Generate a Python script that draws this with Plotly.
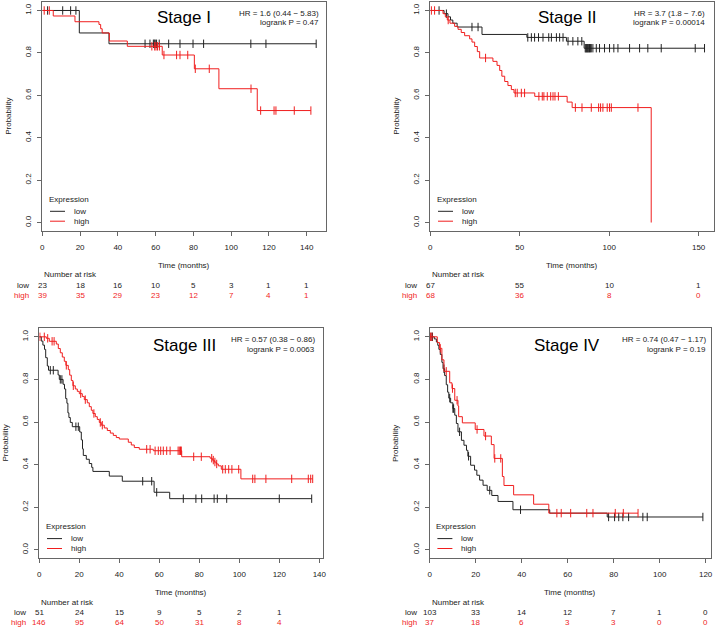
import numpy as np
import plotly.graph_objects as go

W, H = 716, 629

# ---------------- Stage I ----------------
s1_low_t = [0, 19.6, 35.3]
s1_low_s = [1.0, 0.894, 0.843]
s1_low_cens = [2.8, 10.8, 15.0, 17.8, 54.4, 57.0, 58.8, 59.3, 59.8, 60.5, 61.9,
               66.9, 72.9, 79.8, 85.4, 110.4, 118.4, 145.0]
s1_high_t = [0, 5.8, 17.3, 30.0, 30.9, 31.7, 35.5, 45.0, 63.5, 80.5, 93.5, 113.8]
s1_high_s = [1.0, 0.974, 0.947, 0.934, 0.914, 0.894, 0.856, 0.831, 0.790, 0.725, 0.631, 0.528]
s1_high_cens = [1.0, 3.7, 58.0, 59.5, 60.2, 61.0, 62.0, 64.4, 71.1, 72.9, 77.0, 81.0,
                88.4, 110.5, 115.6, 122.7, 123.7, 133.4, 142.2]
s1_risk_t = [0, 20, 40, 60, 80, 100, 120, 140]
s1_risk_low = [23, 18, 16, 10, 5, 3, 1, 1]
s1_risk_high = [39, 35, 29, 23, 12, 7, 4, 1]

# ---------------- Stage II ----------------
s2_low_t = [0, 7.7, 9.9, 11.3, 12.6, 15.0, 28.9, 54.0, 76.1, 86.0]
s2_low_s = [1.0, 0.985, 0.970, 0.955, 0.940, 0.922, 0.887, 0.873, 0.855, 0.822]
s2_low_cens = [4.9, 9.0, 23.3, 26.7, 54.5, 56.5, 58.3, 60.5, 63.0, 66.2, 67.7, 70.5,
               72.3, 74.2, 77.0, 79.7, 82.5, 84.7, 86.6, 87.0, 87.4, 87.8, 88.2, 88.6,
               89.0, 89.5, 90.0, 90.9, 92.8, 94.6, 97.4, 100.2, 102.6, 104.9, 111.4,
               117.0, 121.6, 129.1, 148.1, 153.3]
s2_high_t = [0, 7.1, 8.4, 9.5, 11.0, 13.6, 15.5, 17.3, 19.2, 22.0, 23.3, 24.8, 26.3,
             27.6, 35.0, 37.3, 38.8, 40.0, 41.6, 43.4, 45.3, 46.8, 58.4, 76.5, 79.3, 123.5]
s2_high_s = [1.0, 0.985, 0.970, 0.955, 0.940, 0.925, 0.911, 0.896, 0.881, 0.866, 0.851,
             0.830, 0.806, 0.776, 0.760, 0.741, 0.717, 0.690, 0.665, 0.646, 0.627,
             0.611, 0.595, 0.568, 0.542, 0.0]
s2_high_cens = [0.6, 2.4, 10.0, 30.9, 47.5, 48.6, 50.9, 52.7, 60.7, 62.6, 63.5, 65.4,
                67.3, 68.6, 69.7, 71.6, 81.1, 84.8, 90.0, 94.1, 95.2, 96.5, 98.9,
                100.2, 101.2, 116.1]
s2_risk_t = [0, 50, 100, 150]
s2_risk_low = [67, 55, 10, 1]
s2_risk_high = [68, 36, 8, 0]

# ---------------- Stage III ----------------
s3_low_t = [0, 1.0, 1.8, 2.6, 3.2, 4.0, 4.6, 9.4, 10.0, 11.9, 12.6, 13.2, 13.8, 14.3,
            14.8, 15.5, 16.5, 20.2, 21.0, 21.6, 22.0, 23.5, 25.0, 26.2, 26.8, 35.0,
            41.5, 57.4, 65.2]
s3_low_s = [1.0, 0.980, 0.961, 0.941, 0.902, 0.863, 0.843, 0.821, 0.800, 0.777, 0.755,
            0.710, 0.688, 0.643, 0.621, 0.598, 0.578, 0.553, 0.516, 0.474, 0.443,
            0.425, 0.405, 0.387, 0.368, 0.346, 0.322, 0.270, 0.240]
s3_low_cens = [5.5, 7.0, 10.5, 11.3, 18.3, 19.5, 51.7, 56.2, 58.7, 72.0, 78.3, 81.2,
               87.4, 89.0, 93.7, 120.0, 136.2]
s3_high_t = [0, 3.5, 5.0, 8.5, 9.5, 10.5, 11.5, 12.5, 13.3, 14.5, 15.2, 16.0, 16.8,
             18.0, 19.0, 20.0, 21.5, 22.5, 24.0, 25.0, 26.0, 26.8, 28.0, 29.0, 30.0,
             31.0, 32.5, 34.0, 35.5, 37.0, 38.5, 40.0, 44.5, 46.0, 47.5, 50.0, 57.0,
             71.2, 85.4, 86.5, 87.5, 88.5, 89.5, 91.0, 100.8]
s3_high_s = [1.0, 0.993, 0.979, 0.966, 0.945, 0.925, 0.905, 0.885, 0.866, 0.846, 0.820,
             0.795, 0.770, 0.755, 0.744, 0.733, 0.720, 0.705, 0.690, 0.672, 0.655,
             0.640, 0.625, 0.612, 0.598, 0.585, 0.572, 0.560, 0.548, 0.537, 0.527,
             0.520, 0.505, 0.492, 0.480, 0.472, 0.465, 0.437, 0.430, 0.421, 0.412,
             0.403, 0.394, 0.378, 0.333]
s3_high_cens = [0.3, 2.5, 4.2, 6.4, 7.4, 13.5, 17.0, 20.7, 23.0, 27.3, 30.5, 31.5,
                53.7, 55.4, 57.9, 59.5, 60.7, 62.0, 63.7, 65.4, 69.4, 70.0, 70.6, 71.0,
                77.2, 81.0, 86.2, 87.0, 87.8, 88.7, 91.7, 93.0, 94.7, 96.3, 99.7,
                106.7, 107.8, 113.3, 126.2, 134.5, 135.7, 136.7]
s3_risk_t = [0, 20, 40, 60, 80, 100, 120]
s3_risk_low = [51, 24, 15, 9, 5, 2, 1]
s3_risk_high = [146, 95, 64, 50, 31, 8, 4]

# ---------------- Stage IV ----------------
s4_low_t = [0, 2.0, 2.9, 3.5, 4.0, 4.6, 5.3, 5.8, 6.5, 7.2, 7.8, 8.3, 9.1, 10.1, 10.9,
            11.6, 12.3, 13.8, 14.9, 16.0, 16.6, 17.8, 19.5, 20.5, 21.7, 23.2, 25.0,
            27.0, 29.7, 36.2, 52.2, 77.2]
s4_low_s = [1.0, 0.990, 0.976, 0.960, 0.941, 0.917, 0.880, 0.850, 0.818, 0.775, 0.740,
            0.712, 0.690, 0.663, 0.632, 0.593, 0.554, 0.514, 0.491, 0.467, 0.439,
            0.397, 0.374, 0.350, 0.327, 0.303, 0.279, 0.255, 0.227, 0.188, 0.172, 0.154]
s4_low_cens = [0.6, 1.2, 6.2, 8.7, 10.1, 10.4, 13.0, 16.9, 26.1, 39.5, 77.8, 80.4,
               82.2, 84.0, 86.5, 92.7, 94.6, 118.8]
s4_high_t = [0, 3.3, 4.3, 5.3, 6.2, 8.7, 9.7, 10.9, 12.3, 12.6, 14.2, 19.8, 23.6, 26.8,
             28.0, 31.6, 32.3, 36.5, 45.2, 51.8]
s4_high_s = [1.0, 0.973, 0.946, 0.892, 0.838, 0.784, 0.757, 0.702, 0.675, 0.625, 0.596,
             0.565, 0.534, 0.494, 0.429, 0.344, 0.302, 0.258, 0.214, 0.172]
s4_high_cens = [0.4, 1.0, 4.6, 7.2, 9.9, 11.9, 20.6, 24.3, 28.3, 30.9, 55.3, 57.2,
                61.3, 68.3, 71.0, 80.7, 84.2, 90.6]
s4_risk_t = [0, 20, 40, 60, 80, 100, 120]
s4_risk_low = [103, 33, 14, 12, 7, 1, 0]
s4_risk_high = [37, 18, 6, 3, 3, 0, 0]

titles = ["Stage I", "Stage II", "Stage III", "Stage IV"]
hr_lines = ["HR = 1.6 (0.44 \u2212 5.83)", "HR = 3.7 (1.8 \u2212 7.6)",
            "HR = 0.57 (0.38 \u2212 0.86)", "HR = 0.74 (0.47 \u2212 1.17)"]
p_lines = ["logrank P = 0.47", "logrank P = 0.00014",
           "logrank P = 0.0063", "logrank P = 0.19"]

RED = "#f01e1e"
BLACK = "#222222"
FRAME = "#666666"
FONT = "Liberation Sans"

panels = [
    dict(low=(s1_low_t, s1_low_s, s1_low_cens), high=(s1_high_t, s1_high_s, s1_high_cens),
         risk=(s1_risk_t, s1_risk_low, s1_risk_high)),
    dict(low=(s2_low_t, s2_low_s, s2_low_cens), high=(s2_high_t, s2_high_s, s2_high_cens),
         risk=(s2_risk_t, s2_risk_low, s2_risk_high)),
    dict(low=(s3_low_t, s3_low_s, s3_low_cens), high=(s3_high_t, s3_high_s, s3_high_cens),
         risk=(s3_risk_t, s3_risk_low, s3_risk_high)),
    dict(low=(s4_low_t, s4_low_s, s4_low_cens), high=(s4_high_t, s4_high_s, s4_high_cens),
         risk=(s4_risk_t, s4_risk_low, s4_risk_high)),
]

# frame geometry in pixels: left, top, right, bottom, x max, tick step, title x, title dy, HR right
geo = [
    (42.3, 2.0, 326.0, 231.0, 150.2, 20, 184.3, 15.5, 320.7),
    (430.3, 2.0, 714.0, 231.0, 158.6, 50, 567.5, 15.5, 707.3),
    (39.3, 328.3, 323.3, 558.3, 142.0, 20, 184.2, 17.5, 316.7),
    (429.7, 328.3, 710.7, 558.3, 122.2, 20, 567.2, 17.5, 708.0),
]


def fx(x):
    return x / W


def fy(y):
    return 1 - y / H


def km_curve(t, s, cens):
    x, y = list(t), list(s)
    end = max(cens) if cens else t[-1]
    if end > t[-1]:
        x.append(end)
        y.append(s[-1])
    idx = np.searchsorted(np.array(t), np.array(cens), side="right") - 1
    cy = np.array(s)[idx]
    return x, y, cens, cy


def note(text, x, y, font, xanchor="center", xref="paper", **kw):
    return dict(text=text, x=x, y=y, xref=xref, yref="paper", xanchor=xanchor,
                yanchor="middle", showarrow=False, font=font, **kw)


fig = go.Figure()
annotations = []
shapes = []
txt = dict(family=FONT, size=8, color=BLACK)

for i, (p, g) in enumerate(zip(panels, geo)):
    left, top, right, bottom, xmax, dt, tx, tdy, hrx = g
    n = "" if i == 0 else str(i + 1)
    xa, ya = "x" + n, "y" + n
    for key, col in (("low", BLACK), ("high", RED)):
        x, y, cx, cy = km_curve(*p[key])
        fig.add_trace(go.Scatter(x=x, y=y, mode="lines", line=dict(color=col, width=1, shape="hv"),
                                 xaxis=xa, yaxis=ya, showlegend=False, hoverinfo="skip"))
        fig.add_trace(go.Scatter(x=cx, y=cy, mode="markers",
                                 marker=dict(symbol="line-ns-open", size=6, color=col,
                                             line=dict(color=col, width=1)),
                                 xaxis=xa, yaxis=ya, showlegend=False, hoverinfo="skip"))

    ax = dict(domain=[fx(left), fx(right)], range=[0, xmax], tick0=0, dtick=dt,
              showgrid=False, zeroline=False, showline=True, mirror=True, linecolor=FRAME,
              linewidth=1, ticks="outside", ticklen=4, tickcolor=FRAME,
              tickfont=txt, ticklabelstandoff=4, anchor=ya)
    ay = dict(domain=[fy(bottom), fy(top)], range=[-0.04, 1.04], tick0=0, dtick=0.2,
              tickformat=".1f", tickangle=-90, showgrid=False, zeroline=False,
              showline=True, mirror=True, linecolor=FRAME, linewidth=1,
              ticks="outside", ticklen=4, tickcolor=FRAME, tickfont=txt,
              ticklabelstandoff=3, anchor=xa)
    fig.layout["xaxis" + n] = ax
    fig.layout["yaxis" + n] = ay

    # title and statistics
    annotations.append(note(titles[i], fx(tx), fy(top + tdy),
                            dict(family=FONT, size=17, color="#000000")))
    annotations.append(note(hr_lines[i], fx(hrx), fy(top + 11.2), txt, xanchor="right"))
    annotations.append(note(p_lines[i], fx(hrx), fy(top + 20.8), txt, xanchor="right"))
    # axis titles
    annotations.append(note("Probability", fx(left - 34), fy((top + bottom) / 2), txt, textangle=-90))
    annotations.append(note("Time (months)", fx((left + right) / 2), fy(bottom + 34), txt))
    # legend
    annotations.append(note("Expression", fx(left + 4.4), fy(bottom - 32), txt, xanchor="left"))
    for lab, col, dy in (("low", BLACK, 19.7), ("high", RED, 9.8)):
        annotations.append(note(lab, fx(left + 29.5), fy(bottom - dy), txt, xanchor="left"))
        shapes.append(dict(type="line", xref="paper", yref="paper", x0=fx(left + 7.7), x1=fx(left + 22.7),
                           y0=fy(bottom - dy), y1=fy(bottom - dy), line=dict(color=col, width=1)))
    # number at risk table
    rt, rlow, rhigh = p["risk"]
    annotations.append(note("Number at risk", fx(left), fy(bottom + 44), txt, xanchor="left"))
    for lab, vals, col, dy in (("low", rlow, BLACK, 54), ("high", rhigh, RED, 64)):
        f = dict(family=FONT, size=8, color=col)
        annotations.append(note(lab, fx(left - 11), fy(bottom + dy), f, xanchor="right"))
        for tv, v in zip(rt, vals):
            annotations.append(note(str(v), tv, fy(bottom + dy), f, xref=xa))

fig.update_layout(
    width=W, height=H, autosize=False,
    margin=dict(l=0, r=0, t=0, b=0, autoexpand=False),
    paper_bgcolor="white", plot_bgcolor="white",
    font=dict(family=FONT, size=8, color=BLACK),
    showlegend=False,
    annotations=annotations,
    shapes=shapes,
)

fig.write_html("out.html", config={"displayModeBar": False},
               post_script="document.body.style.margin='0px';")
